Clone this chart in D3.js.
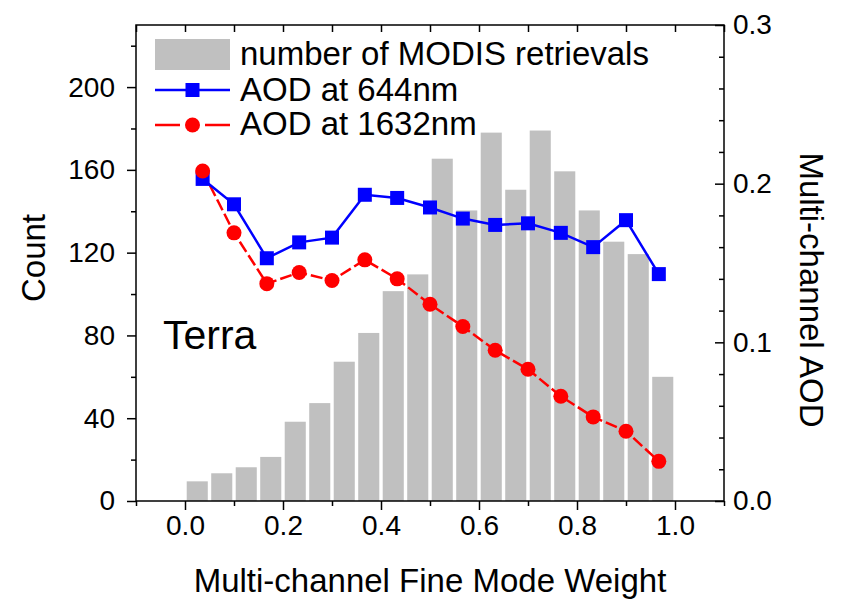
<!DOCTYPE html>
<html>
<head>
<meta charset="utf-8">
<script src="https://cdn.jsdelivr.net/npm/d3@7"></script>
<style>
  body { margin: 0; background: #fff; }
  svg text { font-family: "Liberation Sans", Arial, sans-serif; fill: #000; }
</style>
</head>
<body>
<div id="chart"></div>
<script>
// Histogram: bin centres and number of retrievals
const binCentres = [0.025, 0.075, 0.125, 0.175, 0.225, 0.275, 0.325, 0.375, 0.425, 0.475,
                    0.525, 0.575, 0.625, 0.675, 0.725, 0.775, 0.825, 0.875, 0.925, 0.975];
const counts = [9.5, 13.4, 16.3, 21.3, 38.3, 47.3, 67.3, 81.2, 101.4, 109.5,
                165.4, 140.4, 178, 150.4, 179, 159.3, 140.4, 125.3, 119.3, 60];

// AOD curves
const fmw = [0.036, 0.1, 0.167, 0.233, 0.3, 0.367, 0.433, 0.5, 0.567, 0.633, 0.7, 0.767, 0.833, 0.9, 0.967];
const aod644 = [0.203, 0.187, 0.153, 0.163, 0.166, 0.193, 0.191, 0.185, 0.178, 0.174, 0.175, 0.169, 0.160, 0.177, 0.143];
const aod1632 = [0.208, 0.169, 0.137, 0.144, 0.139, 0.152, 0.140, 0.124, 0.110, 0.095, 0.083, 0.066, 0.053, 0.044, 0.025];

const xTicks = [0, 0.2, 0.4, 0.6, 0.8, 1.0];
const countTicks = [0, 40, 80, 120, 160, 200];
const aodTicks = [0, 0.1, 0.2, 0.3];

const margin = { top: 25, right: 117, bottom: 102, left: 136 },
    width = 841 - margin.left - margin.right,
    height = 603 - margin.top - margin.bottom;

const svg = d3.select("#chart")
  .append("svg")
    .attr("width", 841)
    .attr("height", 603)
  .append("g")
    .attr("transform", `translate(${margin.left},${margin.top})`);

const x = d3.scaleLinear().domain([-0.1, 1.1]).range([0, width]);
const yL = d3.scaleLinear().domain([0, 230]).range([height, 0]);
const yR = d3.scaleLinear().domain([0, 0.3]).range([height, 0]);

// Bars
const barW = x(0.043) - x(0);
svg.selectAll(".bar")
  .data(counts)
  .join("rect")
  .attr("class", "bar")
  .attr("x", (d, i) => x(binCentres[i]) - barW / 2)
  .attr("y", d => yL(d))
  .attr("width", barW)
  .attr("height", d => yL(0) - yL(d))
  .attr("fill", "#c0c0c0");

// Lines
const aodLine = d3.line().x((d, i) => x(fmw[i])).y(d => yR(d));
svg.append("path")
  .attr("d", aodLine(aod1632))
  .attr("fill", "none")
  .attr("stroke", "#ff0000")
  .attr("stroke-width", 2.5)
  .attr("stroke-dasharray", "12,4");
svg.append("path")
  .attr("d", aodLine(aod644))
  .attr("fill", "none")
  .attr("stroke", "#0000ff")
  .attr("stroke-width", 2.5);

svg.selectAll(".sq")
  .data(aod644)
  .join("rect")
  .attr("x", (d, i) => x(fmw[i]) - 7)
  .attr("y", d => yR(d) - 7)
  .attr("width", 14)
  .attr("height", 14)
  .attr("fill", "#0000ff");
svg.selectAll(".dot")
  .data(aod1632)
  .join("circle")
  .attr("cx", (d, i) => x(fmw[i]))
  .attr("cy", d => yR(d))
  .attr("r", 7.5)
  .attr("fill", "#ff0000");

// Axes
function styleAxis(g) {
  g.select(".domain").remove();
  g.selectAll("line").attr("stroke", "#000").attr("stroke-width", 1.5);
  g.selectAll("text").style("font-size", "28px").attr("fill", "#000");
}
const minorX = d3.range(-1, 12).map(d => d / 10).filter(d => !xTicks.some(t => Math.abs(t - d) < 1e-9));
const allX = d3.range(-1, 12).map(d => d / 10);

svg.append("g")
  .attr("transform", `translate(0,${height})`)
  .call(d3.axisBottom(x).tickValues(xTicks).tickFormat(d3.format(".1f")).tickSize(9).tickPadding(5))
  .call(styleAxis);
svg.append("g")
  .attr("transform", `translate(0,${height})`)
  .call(d3.axisBottom(x).tickValues(minorX).tickFormat("").tickSize(5))
  .call(styleAxis);
svg.append("g")
  .call(d3.axisTop(x).tickValues(allX).tickFormat("").tickSizeInner(-7).tickSizeOuter(0))
  .call(styleAxis);

svg.append("g")
  .call(d3.axisLeft(yL).tickValues(countTicks).tickSize(9).tickPadding(12))
  .call(styleAxis);
svg.append("g")
  .call(d3.axisLeft(yL).tickValues([20, 60, 100, 140, 180, 220]).tickFormat("").tickSize(5))
  .call(styleAxis);

svg.append("g")
  .attr("transform", `translate(${width},0)`)
  .call(d3.axisRight(yR).tickValues(aodTicks).tickFormat(d3.format(".1f")).tickSizeInner(-9).tickPadding(9))
  .call(styleAxis);
svg.append("g")
  .attr("transform", `translate(${width},0)`)
  .call(d3.axisRight(yR).tickValues(d3.range(0, 31, 2).filter(d => d % 10 !== 0).map(d => d / 100)).tickFormat("").tickSizeInner(-5))
  .call(styleAxis);

// Frame
svg.append("rect")
  .attr("width", width)
  .attr("height", height)
  .attr("fill", "none")
  .attr("stroke", "#000")
  .attr("stroke-width", 1.5);

// Axis titles
svg.append("text")
  .attr("x", width / 2)
  .attr("y", height + 91)
  .attr("text-anchor", "middle")
  .style("font-size", "33px")
  .text("Multi-channel Fine Mode Weight");
svg.append("text")
  .attr("transform", `translate(-91,233) rotate(-90)`)
  .attr("text-anchor", "middle")
  .style("font-size", "33px")
  .text("Count");
svg.append("text")
  .attr("transform", `translate(${width + 76},265) rotate(90)`)
  .attr("text-anchor", "middle")
  .style("font-size", "33px")
  .text("Multi-channel AOD");

svg.append("text")
  .attr("x", 27)
  .attr("y", 324)
  .style("font-size", "41px")
  .text("Terra");

// Legend
const lg = svg.append("g").attr("transform", "translate(19,29)");
lg.append("rect").attr("x", 0).attr("y", -15).attr("width", 75).attr("height", 31).attr("fill", "#c0c0c0");
lg.append("text").attr("x", 85).attr("y", 11).style("font-size", "33px").text("number of MODIS retrievals");

lg.append("line").attr("x1", 0).attr("x2", 75).attr("y1", 36).attr("y2", 36).attr("stroke", "#0000ff").attr("stroke-width", 2.5);
lg.append("rect").attr("x", 30.5).attr("y", 29).attr("width", 14).attr("height", 14).attr("fill", "#0000ff");
lg.append("text").attr("x", 85).attr("y", 47).style("font-size", "33px").text("AOD at 644nm");

lg.append("line").attr("x1", 0).attr("x2", 75).attr("y1", 71).attr("y2", 71).attr("stroke", "#ff0000").attr("stroke-width", 2.5).attr("stroke-dasharray", "25,25");
lg.append("circle").attr("cx", 37.5).attr("cy", 71).attr("r", 7.5).attr("fill", "#ff0000");
lg.append("text").attr("x", 85).attr("y", 81).style("font-size", "33px").text("AOD at 1632nm");
</script>
</body>
</html>
